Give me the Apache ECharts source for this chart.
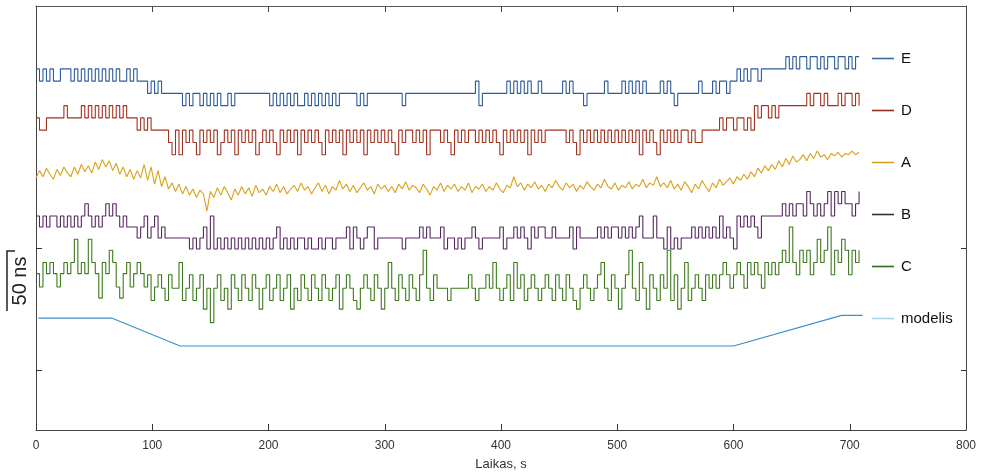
<!DOCTYPE html>
<html>
<head>
<meta charset="utf-8">
<script src="https://cdn.jsdelivr.net/npm/echarts@6/dist/echarts.min.js"></script>
<style>
html, body { margin: 0; padding: 0; background: #fff; }
#chart { width: 984px; height: 476px; }
</style>
</head>
<body>
<div id="chart"></div>
<script>
// samples every 3 s, values in ns
var sampleStep = 3;

var valsE = [
  246,236,246,236,246,236,236,246,246,246, 236,246,236,246,236,246,236,246,236,246,
  236,246,236,246,236,236,246,236,246,236, 236,236,226,236,226,236,226,226,226,226,
  226,226,216,226,216,226,226,216,226,216, 226,216,226,216,216,226,216,226,226,226,
  226,226,226,226,226,226,226,216,226,216, 226,216,226,216,226,216,216,226,216,226,
  216,226,216,226,216,226,216,226,226,226, 226,226,216,226,216,226,226,226,226,226,
  226,226,226,226,226,216,226,226,226,226, 226,226,226,226,226,226,226,226,226,226,
  226,226,226,226,226,226,236,216,226,226, 226,226,226,226,226,236,226,236,226,236,
  226,236,226,226,236,226,226,226,226,226, 226,236,226,236,226,226,226,216,226,226,
  226,226,226,236,226,226,226,226,236,226, 236,226,236,226,236,226,226,226,226,236,
  226,236,226,216,226,226,226,226,226,226, 236,226,226,226,236,226,236,236,226,236,
  236,246,236,246,236,246,246,236,246,246, 246,246,246,246,246,256,246,256,246,256,
  256,246,256,256,246,256,246,256,256,246, 256,256,246,256,246,256,256
];

var valsD = [
  206,196,196,206,206,206,206,206,216,206, 206,206,206,216,206,216,206,216,206,216,
  206,216,206,216,206,216,206,206,206,196, 206,196,206,196,196,196,196,196,186,176,
  196,176,196,186,196,186,176,196,186,196, 186,196,176,186,196,186,196,176,196,186,
  196,186,196,176,186,196,186,196,186,176, 196,186,196,186,196,176,196,186,196,186,
  196,186,176,196,186,196,186,196,176,196, 186,196,186,196,176,196,186,196,186,196,
  186,196,186,176,196,186,196,196,186,196, 186,196,176,196,196,196,186,196,186,176,
  196,186,196,186,196,196,186,196,186,196, 186,196,186,176,196,186,196,186,196,186,
  196,176,196,186,196,186,196,196,196,196, 196,196,186,196,186,176,196,186,196,186,
  196,186,196,186,196,186,196,186,196,186, 196,186,196,176,196,186,196,186,176,196,
  186,196,186,196,186,196,196,186,196,186, 186,196,196,196,196,196,206,196,206,206,
  196,206,206,196,206,196,216,206,216,216, 206,216,206,216,216,216,216,216,216,216,
  216,226,216,226,226,216,226,216,216,216, 226,216,226,226,216,226,216
];

var valsA = [
  157,163,158,165,160,156,164,159,166,161, 158,166,160,168,162,167,161,170,164,172,
  166,171,163,169,160,166,158,164,156,163, 157,168,155,166,152,163,150,158,148,153,
  146,152,144,150,143,148,141,147,144,130, 146,141,149,143,150,145,139,148,143,150,
  144,149,142,151,145,148,143,150,146,152, 145,150,144,148,151,146,153,147,150,144,
  149,153,146,151,144,150,147,155,148,152, 146,151,145,149,153,147,150,144,152,148,
  151,146,150,145,152,148,154,147,151,149, 145,152,148,143,150,147,153,146,151,148,
  152,146,150,147,153,145,150,148,152,146, 150,147,153,148,145,151,149,158,150,153,
  147,152,149,154,148,151,146,152,149,155, 150,147,153,149,152,146,151,148,154,150,
  147,152,149,156,150,148,153,147,151,149, 154,148,152,150,156,149,153,151,158,150,
  153,149,155,148,152,147,154,150,145,152, 148,155,150,146,153,149,156,151,154,157,
  152,158,155,160,156,162,158,165,161,167, 163,168,164,171,166,173,168,175,170,172,
  176,171,177,173,179,174,176,172,177,175, 178,174,177,176,179,176,178
];

var valsB = [
  126,117,126,117,126,126,117,126,117,126, 117,126,117,126,136,126,117,126,117,126,
  136,126,136,126,117,126,117,117,117,108, 117,126,108,117,126,108,117,108,108,108,
  108,108,108,108,99,108,99,108,117,99, 126,99,108,99,108,99,108,99,108,99,
  108,99,108,99,108,99,108,99,108,117, 99,108,99,108,99,108,108,99,108,99,
  99,108,99,108,108,99,108,108,108,117, 99,117,108,99,108,117,117,99,108,108,
  108,108,108,108,108,99,108,108,108,108, 117,108,117,108,108,108,117,99,108,108,
  99,108,99,108,108,117,108,99,108,108, 108,108,108,117,99,108,108,117,108,117,
  108,99,117,108,117,117,108,108,117,108, 108,108,108,117,99,117,108,108,108,108,
  108,117,108,117,108,117,117,108,117,108, 117,108,117,126,108,108,108,126,108,108,
  99,117,99,108,99,108,108,108,117,108, 117,108,117,108,117,108,126,108,117,108,
  99,126,117,126,117,126,117,108,126,126, 126,126,126,126,136,126,136,126,136,136,
  126,146,136,126,136,126,136,146,126,146, 136,146,136,136,126,136,146
];

var valsC = [
  79,68,88,79,88,79,68,79,88,79, 88,107,79,88,79,107,88,79,59,88,
  79,98,88,68,59,79,88,68,79,88, 79,68,78,57,68,78,67,57,78,67,
  67,88,57,67,78,57,67,78,50,67, 39,67,78,57,67,50,78,67,57,78,
  67,57,78,67,50,67,78,57,67,78, 57,67,78,50,67,57,78,67,57,78,
  67,57,78,67,57,67,78,50,67,78, 67,57,50,67,78,67,57,78,67,50,
  67,88,67,57,78,67,57,78,67,57, 78,98,67,57,78,67,67,67,57,67,
  67,67,67,67,78,67,57,67,67,78, 67,88,67,57,67,78,57,88,67,78,
  57,67,78,67,57,67,78,67,57,78, 67,57,78,67,57,50,67,78,67,57,
  67,78,88,67,57,78,67,50,67,78, 98,67,57,88,67,50,78,67,57,78,
  67,98,57,78,50,67,88,57,67,78, 67,57,78,67,78,67,78,88,78,67,
  78,88,78,67,88,78,88,78,67,88, 78,88,78,88,98,88,117,88,78,98,
  88,98,78,88,107,88,98,117,78,98, 88,107,98,78,98,88,98
];

// modelis: break points
var modelT = [2, 65, 124, 600, 693, 711];
var modelV = [42.7, 42.7, 19.9, 19.9, 44.9, 44.9];

var seriesNames = ['E', 'D', 'A', 'B', 'C', 'modelis'];
var seriesColors = ['#2d5c9a', '#a3321f', '#d9a11c', '#56285f', '#3c7a1d', '#3b8ec4'];
var legendColors = ['#3a6aa3', '#8e2c22', '#d9a11c', '#333333', '#2f6a1c', '#a9d4ea'];
var yTicks = [0, 100];

function toPairs(vals) {
    return vals.map(function (v, i) { return [i * sampleStep, v]; });
}

var chart = echarts.init(document.getElementById('chart'));

var font = 'Liberation Sans, Arial, sans-serif';
var yMin = -48.6, yMax = 297.3;

var option = {
    animation: false,
    backgroundColor: '#fff',
    grid: { left: 36, width: 930, top: 6, height: 429 },
    legend: {
        orient: 'vertical',
        left: 872,
        top: 51,
        padding: 0,
        itemGap: 37,
        itemWidth: 22,
        itemHeight: 1.6,
        icon: 'rect',
        textStyle: { fontFamily: font, fontSize: 15, color: '#111', padding: [0, 0, 0, 2] },
        data: seriesNames.map(function (n, i) {
            return { name: n, itemStyle: { color: legendColors[i] } };
        })
    },
    xAxis: [{
        type: 'value', min: 0, max: 800, interval: 100,
        name: 'Laikas, s', nameLocation: 'middle', nameGap: 28,
        nameTextStyle: { fontFamily: font, fontSize: 13, color: '#333' },
        axisLine: { onZero: false, lineStyle: { color: '#444' } },
        axisTick: { inside: true, length: 6, lineStyle: { color: '#333' } },
        axisLabel: { fontFamily: font, fontSize: 12, color: '#333', margin: 10 },
        splitLine: { show: false }
    }, {
        type: 'value', min: 0, max: 800, interval: 100, position: 'top',
        axisLine: { onZero: false, lineStyle: { color: '#555' } },
        axisTick: { inside: true, length: 6, lineStyle: { color: '#444' } },
        axisLabel: { show: false },
        splitLine: { show: false }
    }],
    yAxis: [{
        type: 'value', min: yMin, max: yMax,
        axisLine: { show: true, onZero: false, lineStyle: { color: '#444' } },
        axisTick: { show: true, inside: true, length: 6, customValues: yTicks, lineStyle: { color: '#333' } },
        axisLabel: { show: false },
        splitLine: { show: false }
    }, {
        type: 'value', min: yMin, max: yMax, position: 'right',
        axisLine: { show: true, onZero: false, lineStyle: { color: '#444' } },
        axisTick: { show: true, inside: true, length: 5, customValues: yTicks, lineStyle: { color: '#333' } },
        axisLabel: { show: false },
        splitLine: { show: false }
    }],
    graphic: [
        {
            type: 'polyline', silent: true,
            shape: { points: [[15, 251], [7, 251], [7, 311]] },
            style: { stroke: '#222', lineWidth: 1.5, fill: null }
        },
        {
            type: 'text', silent: true, x: 20, y: 281, rotation: Math.PI / 2,
            style: { text: '50 ns', fontFamily: font, fontSize: 20, fill: '#222', align: 'center', verticalAlign: 'middle' }
        }
    ],
    series: [
        { name: 'E', type: 'line', step: 'end', data: toPairs(valsE) },
        { name: 'D', type: 'line', step: 'end', data: toPairs(valsD) },
        { name: 'A', type: 'line', data: toPairs(valsA) },
        { name: 'B', type: 'line', step: 'end', data: toPairs(valsB) },
        { name: 'C', type: 'line', step: 'end', data: toPairs(valsC) },
        { name: 'modelis', type: 'line', data: modelT.map(function (t, i) { return [t, modelV[i]]; }) }
    ].map(function (s, i) {
        s.symbol = 'none';
        s.color = seriesColors[i];
        s.lineStyle = { width: 1.1, color: seriesColors[i] };
        return s;
    })
};

chart.setOption(option);
</script>
</body>
</html>
